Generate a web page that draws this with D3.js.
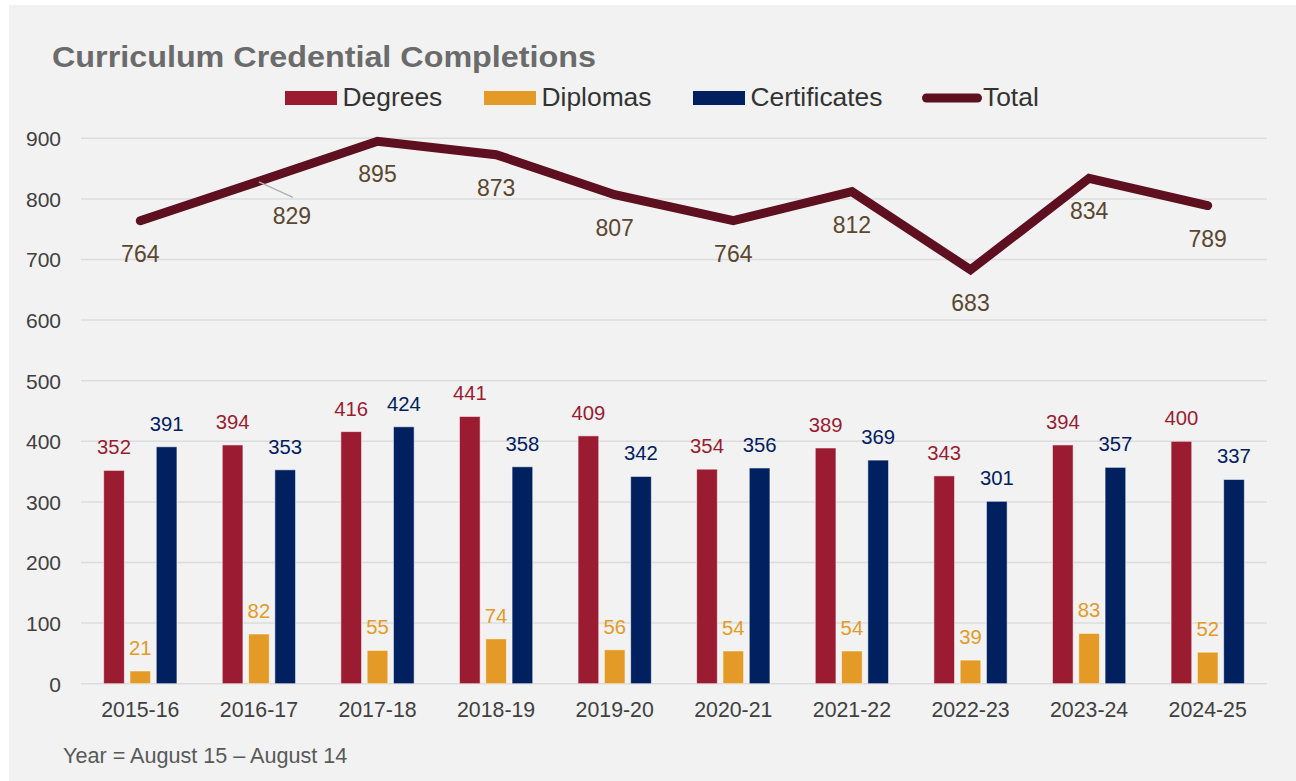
<!DOCTYPE html>
<html>
<head>
<meta charset="utf-8">
<script src="https://cdn.jsdelivr.net/npm/d3@7"></script>
<style>
  html, body { margin: 0; padding: 0; background: #ffffff; }
  svg { display: block; }
  text { font-family: "Liberation Sans", Arial, sans-serif; }
</style>
</head>
<body>
<svg id="chart" width="1296" height="781"></svg>
<script>
const categories = ["2015-16","2016-17","2017-18","2018-19","2019-20","2020-21","2021-22","2022-23","2023-24","2024-25"];
const seriesNames = ["Degrees","Diplomas","Certificates"];
const degrees = [352,394,416,441,409,354,389,343,394,400];
const diplomas = [21,82,55,74,56,54,54,39,83,52];
const certificates = [391,353,424,358,342,356,369,301,357,337];
const totals = [764,829,895,873,807,764,812,683,834,789];
const yTicks = [0,100,200,300,400,500,600,700,800,900];
const titleText = "Curriculum Credential Completions";
const footnoteText = "Year = August 15 \u2013 August 14";

(function () {
const barColors = { Degrees: "#9B1C31", Diplomas: "#E39A27", Certificates: "#002060" };
const lineColor = "#5E1020";
const totalLabelColor = "#5B4630";

const svg = d3.select("#chart");
const W = 1296, H = 781;

// panel background
svg.append("rect").attr("x", 9).attr("y", 5).attr("width", W - 9).attr("height", H - 5).attr("fill", "#f2f2f2");

const pLeft = 81, pRight = 1267, pTop = 138.3, pBottom = 683.7;

const y = d3.scaleLinear().domain([0, 900]).range([pBottom, pTop]);
const x0 = d3.scaleBand().domain(categories).range([pLeft, pRight]).paddingInner(0.382).paddingOuter(0.191);
const x1 = d3.scaleBand().domain(seriesNames).range([0, x0.bandwidth()]).paddingInner(0.213);

// gridlines
svg.append("g").selectAll("line").data(yTicks).join("line")
  .attr("x1", pLeft).attr("x2", pRight)
  .attr("y1", d => y(d)).attr("y2", d => y(d))
  .attr("stroke", "#dcdcdc").attr("stroke-width", 1.5);

// y axis labels
const yAxis = d3.axisLeft(y).tickValues(yTicks).tickSize(0).tickPadding(0);
const gy = svg.append("g").attr("transform", `translate(61,0)`).call(yAxis);
gy.select(".domain").remove();
gy.selectAll("text").attr("font-size", 21).attr("fill", "#404040")
  .attr("font-family", "'Liberation Sans', Arial, sans-serif").attr("dy", "0.35em");

// x axis labels
const xAxis = d3.axisBottom(x0).tickSize(0).tickPadding(0);
const gx = svg.append("g").attr("transform", `translate(0,${pBottom})`).call(xAxis);
gx.select(".domain").remove();
gx.selectAll("text").attr("font-size", 21.3).attr("fill", "#404040")
  .attr("font-family", "'Liberation Sans', Arial, sans-serif")
  .attr("dy", null).attr("y", 33);

// bars
const seriesData = { Degrees: degrees, Diplomas: diplomas, Certificates: certificates };
const barRows = [];
categories.forEach((c, i) => {
  seriesNames.forEach(s => barRows.push({ cat: c, series: s, value: seriesData[s][i] }));
});

const gb = svg.append("g");
gb.selectAll("rect").data(barRows).join("rect")
  .attr("x", d => x0(d.cat) + x1(d.series))
  .attr("y", d => y(d.value))
  .attr("width", x1.bandwidth())
  .attr("height", d => y(0) - y(d.value))
  .attr("fill", d => barColors[d.series])
  .attr("stroke", "#ffffff").attr("stroke-opacity", 0.55).attr("stroke-width", 1);

gb.selectAll("text").data(barRows).join("text")
  .attr("x", d => x0(d.cat) + x1(d.series) + x1.bandwidth() / 2)
  .attr("y", d => y(d.value) - 16)
  .attr("text-anchor", "middle")
  .attr("font-size", 20.3)
  .attr("fill", d => barColors[d.series])
  .text(d => d.value);

// total line
const cx = c => x0(c) + x0.bandwidth() / 2;
const line = d3.line().x((d, i) => cx(categories[i])).y(d => y(d));
svg.append("path").datum(totals)
  .attr("d", line)
  .attr("fill", "none").attr("stroke", lineColor).attr("stroke-width", 9)
  .attr("stroke-linecap", "round").attr("stroke-linejoin", "miter");

// leader line for shifted label (index 1)
const shiftIdx = 1, shiftDx = 33, shiftDy = 2;
svg.append("line")
  .attr("x1", cx(categories[shiftIdx])).attr("y1", y(totals[shiftIdx]) + 0.5)
  .attr("x2", cx(categories[shiftIdx]) + 34).attr("y2", y(totals[shiftIdx]) + 16)
  .attr("stroke", "#b0b0b0").attr("stroke-width", 1.5);

svg.append("g").selectAll("text").data(totals).join("text")
  .attr("x", (d, i) => cx(categories[i]) + (i === shiftIdx ? shiftDx : 0))
  .attr("y", (d, i) => y(d) + 41 + (i === shiftIdx ? shiftDy : 0))
  .attr("text-anchor", "middle")
  .attr("font-size", 23)
  .attr("fill", totalLabelColor)
  .text(d => d);

// title
svg.append("text")
  .attr("x", 52).attr("y", 66.5)
  .attr("font-family", "'Lato', 'Open Sans', 'DejaVu Sans', sans-serif")
  .attr("font-weight", 700).attr("font-size", 29)
  .attr("fill", "#6b6b6b")
  .attr("textLength", 544).attr("lengthAdjust", "spacingAndGlyphs")
  .text(titleText);

// legend
const legendItems = [
  { name: "Degrees", x: 285, type: "rect" },
  { name: "Diplomas", x: 484, type: "rect" },
  { name: "Certificates", x: 693, type: "rect" },
  { name: "Total", x: 922, type: "line" }
];
const gl = svg.append("g");
legendItems.forEach(it => {
  if (it.type === "rect") {
    gl.append("rect").attr("x", it.x).attr("y", 91).attr("width", 52).attr("height", 14)
      .attr("fill", barColors[it.name]);
    gl.append("text").attr("x", it.x + 57.5).attr("y", 106).attr("font-size", 26.4)
      .attr("fill", "#333333").text(it.name);
  } else {
    gl.append("line").attr("x1", it.x + 4.5).attr("x2", it.x + 55.5).attr("y1", 98).attr("y2", 98)
      .attr("stroke", lineColor).attr("stroke-width", 9).attr("stroke-linecap", "round");
    gl.append("text").attr("x", it.x + 61).attr("y", 106).attr("font-size", 26.4)
      .attr("fill", "#333333").text(it.name);
  }
});

// footnote
svg.append("text").attr("x", 63).attr("y", 763).attr("font-size", 21.6)
  .attr("fill", "#595959").text(footnoteText);
})();
</script>
</body>
</html>
